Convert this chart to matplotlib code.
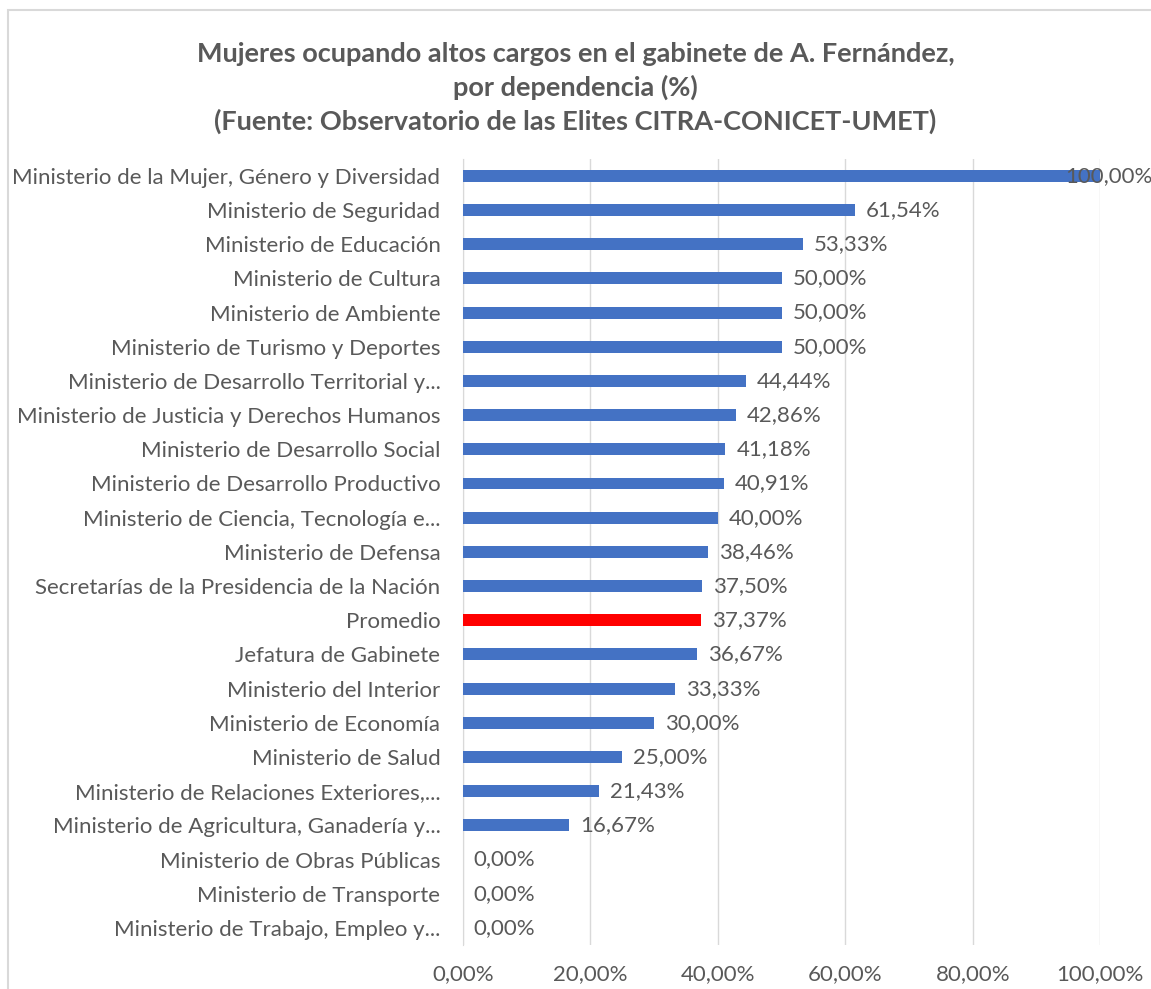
import matplotlib.pyplot as plt
from matplotlib.ticker import FuncFormatter
from matplotlib.patches import Rectangle

categorias = [
    'Ministerio de la Mujer, Género y Diversidad',
    'Ministerio de Seguridad',
    'Ministerio de Educación',
    'Ministerio de Cultura',
    'Ministerio de Ambiente',
    'Ministerio de Turismo y Deportes',
    'Ministerio de Desarrollo Territorial y...',
    'Ministerio de Justicia y Derechos Humanos',
    'Ministerio de Desarrollo Social',
    'Ministerio de Desarrollo Productivo',
    'Ministerio de Ciencia, Tecnología e...',
    'Ministerio de Defensa',
    'Secretarías de la Presidencia de la Nación',
    'Promedio',
    'Jefatura de Gabinete',
    'Ministerio del Interior',
    'Ministerio de Economía',
    'Ministerio de Salud',
    'Ministerio de Relaciones Exteriores,...',
    'Ministerio de Agricultura, Ganadería y...',
    'Ministerio de Obras Públicas',
    'Ministerio de Transporte',
    'Ministerio de Trabajo, Empleo y...',
]
valores = [100.00, 61.54, 53.33, 50.00, 50.00, 50.00, 44.44, 42.86, 41.18, 40.91,
           40.00, 38.46, 37.50, 37.37, 36.67, 33.33, 30.00, 25.00, 21.43, 16.67,
           0.00, 0.00, 0.00]

plt.rcParams['font.family'] = ['Lato', 'DejaVu Sans']
gris = '#595959'

def pct(v):
    return f'{v:.2f}%'.replace('.', ',')

fig = plt.figure(figsize=(11.51, 9.89), dpi=100)
ax = fig.add_axes([0.402, 0.0445, 0.554, 0.795])

colores = ['#FF0000' if c == 'Promedio' else '#4472C4' for c in categorias]
y = list(range(len(categorias)))
ax.barh(y, valores, height=0.35, color=colores, zorder=3)
ax.set_ylim(len(categorias) - 0.5, -0.5)
ax.set_xlim(0, 100)
ax.set_xticks([0, 20, 40, 60, 80, 100])
ax.xaxis.set_major_formatter(FuncFormatter(lambda v, p: pct(v)))
ax.set_yticks(y)
ax.set_yticklabels(categorias)
ax.tick_params(axis='both', length=0, labelsize=16, colors=gris)
ax.tick_params(axis='y', pad=16)
ax.tick_params(axis='x', pad=14)
ax.grid(axis='x', color='#D9D9D9', linewidth=1, zorder=0)
for s in ['top', 'right', 'bottom']:
    ax.spines[s].set_visible(False)
ax.spines['left'].set_color('#D9D9D9')

for i, v in enumerate(valores):
    if v >= 100:
        ax.annotate(pct(v), (v, i), xytext=(-25, 0), textcoords='offset points',
                    ha='left', va='center', fontsize=16, color=gris, zorder=4)
    else:
        ax.annotate(pct(v), (v, i), xytext=(8, 0), textcoords='offset points',
                    ha='left', va='center', fontsize=16, color=gris, zorder=4)

fig.text(0.5, 0.911,
         'Mujeres ocupando altos cargos en el gabinete de A. Fernández,\n'
         'por dependencia (%)\n'
         '(Fuente: Observatorio de las Elites CITRA-CONICET-UMET)',
         ha='center', va='center', fontsize=19.5, fontweight='bold', color=gris,
         linespacing=1.42)

fig.patches.append(Rectangle((0.007, -0.01), 1.0, 1.0 - 0.0105 + 0.01, transform=fig.transFigure,
                             fill=False, edgecolor='#D9D9D9', linewidth=1.5))

fig.savefig('out.png', dpi=100)
